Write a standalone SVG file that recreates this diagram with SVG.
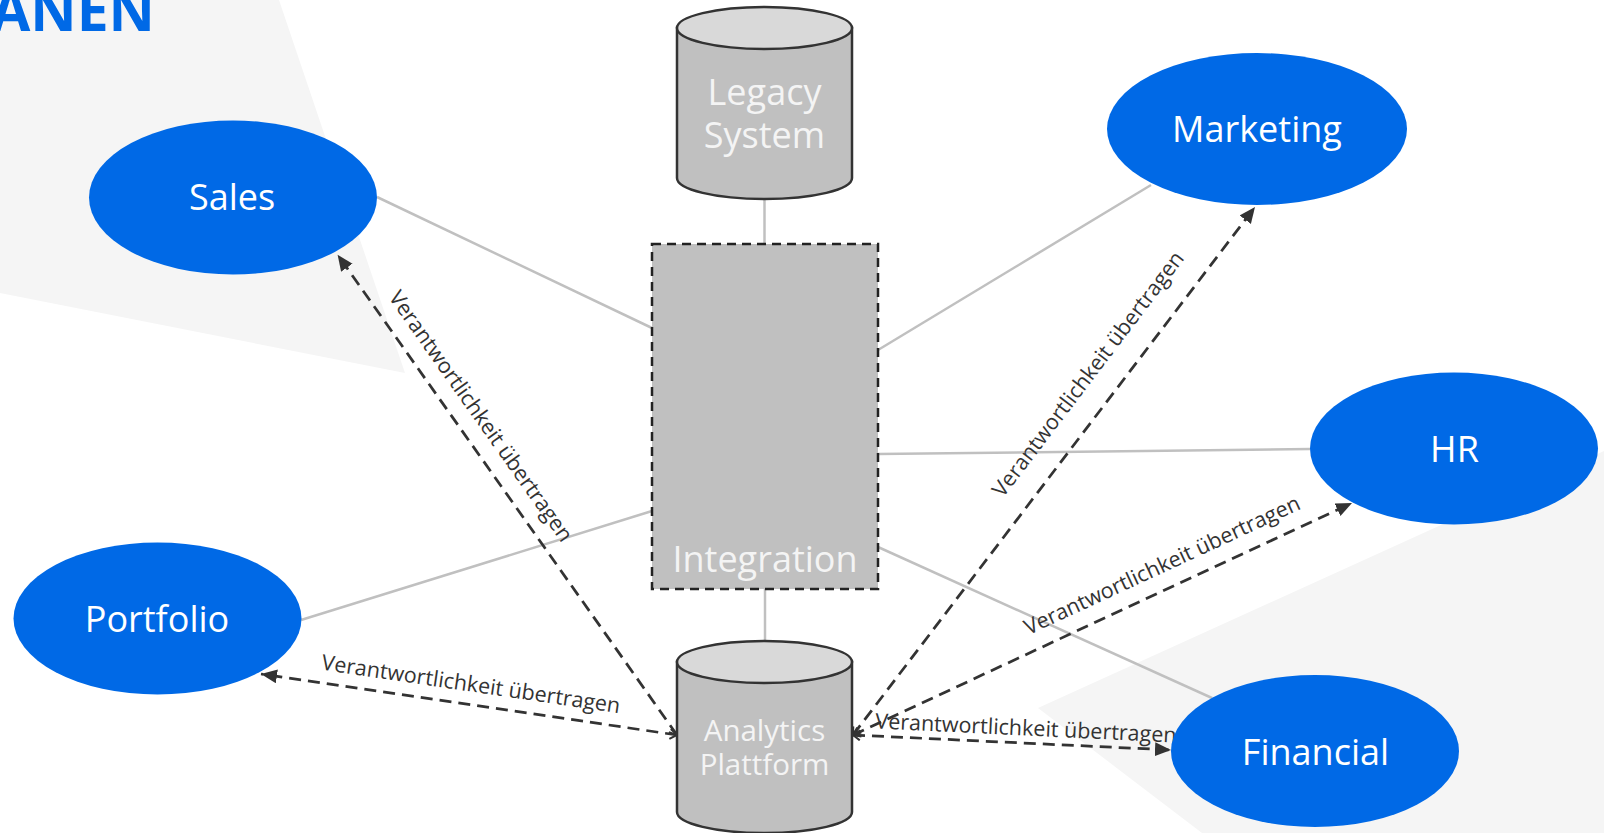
<svg xmlns="http://www.w3.org/2000/svg" width="1604" height="833" viewBox="0 0 1604 833">
<defs>
<style>
.bg{fill:#f5f5f5}
.ell{fill:#0069e6}
.nt{font-family:"Open Sans","Noto Sans","Liberation Sans",sans-serif;font-size:36px;fill:#ffffff;text-anchor:middle}
.gt{font-family:"Open Sans","Noto Sans","Liberation Sans",sans-serif;fill:#f4f4f4;text-anchor:middle}
.cyl{fill:#c0c0c0;stroke:#333333;stroke-width:2.5}
.cyltop{fill:#d9d9d9;stroke:#333333;stroke-width:2.5}
.solid{stroke:#c0c0c0;stroke-width:2.5;fill:none}
.dash{stroke:#333333;stroke-width:2.75;fill:none;stroke-dasharray:12 7;marker-end:url(#tri);marker-start:url(#chev)}
.lbl{font-family:"Open Sans","Noto Sans","Liberation Sans",sans-serif;font-size:21.5px;fill:#333333;text-anchor:middle}
</style>
<marker id="tri" markerUnits="userSpaceOnUse" markerWidth="18" markerHeight="16" refX="16" refY="7" orient="auto" viewBox="0 0 18 16">
<path d="M0,0 L16,7 L0,14 z" fill="#333333"/>
</marker>
<marker id="chev" markerUnits="userSpaceOnUse" markerWidth="12" markerHeight="12" refX="1" refY="6" orient="auto" viewBox="0 0 12 12">
<path d="M8,1 L1,6 L8,11" fill="none" stroke="#333333" stroke-width="2"/>
</marker>
</defs>

<rect width="1604" height="833" fill="#ffffff"/>
<g id="background">
<polygon class="bg" points="0,0 279,0 405,373 0,293"/>
<polygon class="bg" points="1038,708 1604,451 1604,833 1202,833"/>
<text x="-9" y="31" font-family="'Open Sans','Noto Sans','Liberation Sans',sans-serif" font-size="57" font-weight="bold" fill="#0069e6">ANEN</text>
</g>

<g id="connectors">
<line class="solid" x1="764.5" y1="199" x2="764.5" y2="244"/>
<line class="solid" x1="765" y1="589" x2="765" y2="641"/>
<line class="solid" x1="377" y1="197" x2="652" y2="328"/>
<line class="solid" x1="301" y1="620" x2="652" y2="511"/>
<line class="solid" x1="1151" y1="185" x2="878" y2="350"/>
<line class="solid" x1="1310" y1="449" x2="878" y2="454"/>
<line class="solid" x1="1212" y1="698" x2="878" y2="547"/>

<line class="dash" x1="677" y1="735" x2="337.6" y2="254.7"/>
<line class="dash" x1="677" y1="735" x2="261" y2="674"/>
<line class="dash" x1="853" y1="735" x2="1255" y2="207"/>
<line class="dash" x1="853" y1="735" x2="1352" y2="503"/>
<line class="dash" x1="853" y1="735" x2="1171" y2="750"/>

<text class="lbl" transform="translate(481,416) rotate(54.75)" y="7.5">Verantwortlichkeit übertragen</text>
<text class="lbl" transform="translate(471,684) rotate(8.34)" y="7.5">Verantwortlichkeit übertragen</text>
<text class="lbl" transform="translate(1088,374) rotate(-52.8)" y="7.5">Verantwortlichkeit übertragen</text>
<text class="lbl" transform="translate(1162,565) rotate(-24.9)" y="7.5">Verantwortlichkeit übertragen</text>
<text class="lbl" transform="translate(1026,728) rotate(2.7)" y="7.5">Verantwortlichkeit übertragen</text>
</g>

<g id="sales">
<ellipse class="ell" cx="233" cy="197.5" rx="144" ry="77"/>
<text class="nt" x="232" y="210">Sales</text>
</g>
<g id="portfolio">
<ellipse class="ell" cx="157.5" cy="618.5" rx="144" ry="76"/>
<text class="nt" x="157" y="632">Portfolio</text>
</g>
<g id="marketing">
<ellipse class="ell" cx="1257" cy="129" rx="150" ry="76"/>
<text class="nt" x="1257" y="141.5">Marketing</text>
</g>
<g id="hr">
<ellipse class="ell" cx="1454" cy="448.5" rx="144" ry="76"/>
<text class="nt" x="1454.5" y="461.5">HR</text>
</g>
<g id="financial">
<ellipse class="ell" cx="1315" cy="751" rx="144" ry="76"/>
<text class="nt" x="1315.5" y="764.5">Financial</text>
</g>

<g id="legacy-system">
<path class="cyl" d="M677,28 L677,178 A87.5,21 0 0 0 852,178 L852,28 Z"/>
<ellipse class="cyltop" cx="764.5" cy="28" rx="87.5" ry="21"/>
<text class="gt" font-size="36" x="764.5" y="105">Legacy</text>
<text class="gt" font-size="36" x="764.5" y="148">System</text>
</g>

<g id="integration">
<rect x="652" y="244" width="226" height="345" fill="#c0c0c0" stroke="#222222" stroke-width="2.5" stroke-dasharray="9 6"/>
<text class="gt" font-size="36" x="765" y="572">Integration</text>
</g>

<g id="analytics-plattform">
<path class="cyl" d="M677,662 L677,812 A87.5,21 0 0 0 852,812 L852,662 Z"/>
<ellipse class="cyltop" cx="764.5" cy="662" rx="87.5" ry="21"/>
<text class="gt" font-size="29.5" x="764.5" y="741">Analytics</text>
<text class="gt" font-size="29.5" x="764.5" y="775">Plattform</text>
</g>
</svg>
